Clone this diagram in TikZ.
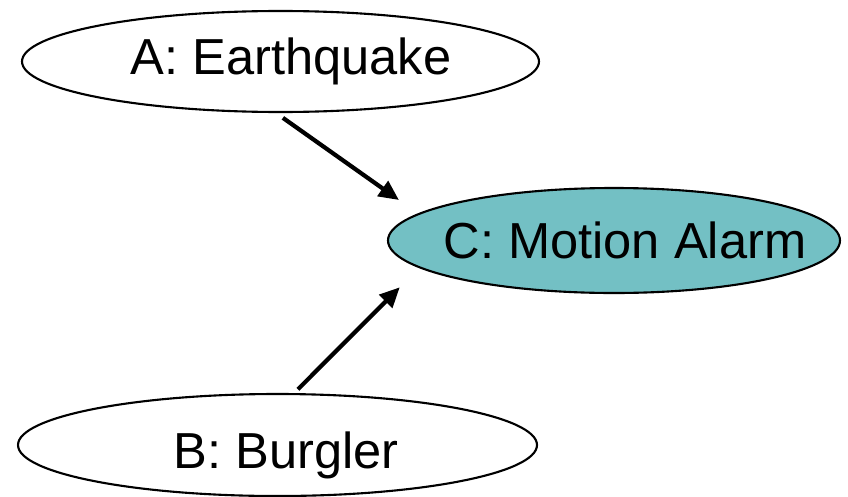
\documentclass[tikz,border=0pt]{standalone}
\usepackage{fontspec}
\setmainfont{Liberation Sans}
\usepackage{tikz}
\usetikzlibrary{arrows.meta,positioning,shapes.geometric}
\usepackage{xcolor}
\definecolor{bnTeal}{HTML}{73C0C4}
\definecolor{bnInk}{RGB}{0,0,0}
\tikzset{
    varnode/.style={
        ellipse,draw=bnInk,line width=1.5pt,fill=#1,
        inner xsep=-2cm,inner ysep=-0.5cm,
        font=\fontsize{36}{43}\selectfont,text=bnInk
    },
    varnode/.default=white,
    arrow/.style={
        -{Triangle[length=0.5cm,width=0.45cm]},line width=3pt,draw=bnInk
    }
}
\begin{document}
\begin{tikzpicture}[x=1cm,y=1cm]
\useasboundingbox (0,0) rectangle (21.2,12.4);

\node[varnode,minimum width=12.925cm,minimum height=2.525cm]
(earthquake) at (7.0125,10.8625) {\hspace*{0.525cm}A: Earthquake};

\node[varnode=bnTeal,minimum width=11.3cm,minimum height=2.625cm]
(alarm) at (15.35,6.3875) {\hspace*{0.55cm}C: Motion Alarm};

\node[varnode,minimum width=12.975cm,minimum height=2.55cm,
    text height=1.15cm,text depth=0cm]
(burgler) at (6.9375,1.275) {\hspace*{0.425cm}B: Burgler};

\draw[arrow] ([shift={(0.06,-0.12)}]earthquake.south)
    -- ([shift={(0.3,1.0125)}]alarm.west);
\draw[arrow] ([shift={(0.51,0.09)}]burgler.north)
    -- ([shift={(0.32,-1.17)}]alarm.west);

\end{tikzpicture}
\end{document}
